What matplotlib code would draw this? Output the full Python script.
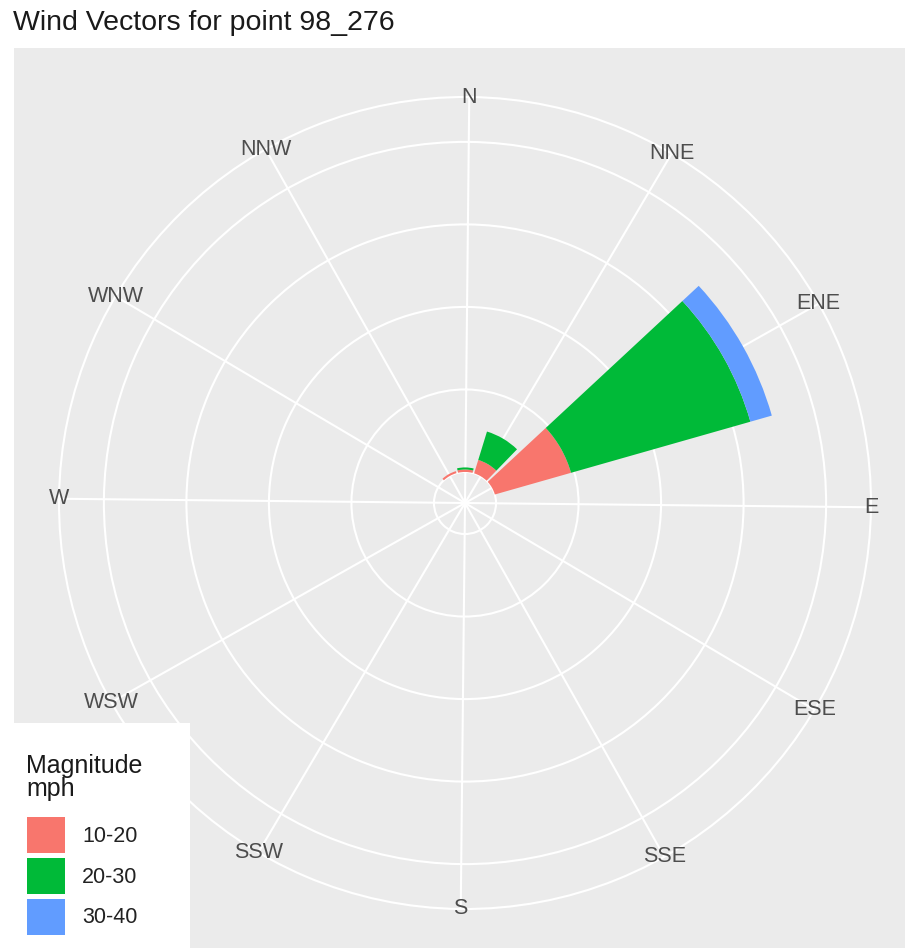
import numpy as np
import matplotlib
matplotlib.use('Agg')
import matplotlib.pyplot as plt
from matplotlib.patches import Rectangle, Patch

plt.rcParams['font.family'] = ['Liberation Sans', 'DejaVu Sans']

# data (radial unit: one grid ring = 10)
direction_deg = [0, 30, 60, 330]
mag_10_20 = [0.3, 1.7, 9.6, 0.25]
mag_20_30 = [0.25, 3.6, 22.6, 0.0]
mag_30_40 = [0.0, 0.0, 2.7, 0.0]
bin_labels = ['10-20', '20-30', '30-40']
bin_colors = ['#F8766D', '#00BA38', '#619CFF']

dir_ticks = [0, 30, 60, 90, 120, 150, 180, 210, 240, 270, 300, 330]
dir_labels = ['N', 'NNE', 'ENE', 'E', 'ESE', 'SSE', 'S', 'SSW', 'WSW', 'W', 'WNW', 'NNW']
ring_breaks = [0, 10, 20, 30, 40]

W, H = 905, 948
R0 = 3.76      # inner hole like ggplot's expanded radial scale
RMAX = 49.2    # outer ring

fig = plt.figure(figsize=(W / 100, H / 100), dpi=100)
fig.patch.set_facecolor('white')

# grey panel (cropped on the right and bottom)
fig.add_artist(Rectangle((14 / W, 0), 1, (H - 48) / H, transform=fig.transFigure,
                         facecolor='#EBEBEB', edgecolor='none', zorder=-1))

cx, cy, rad = 465, 503, 406
ax = fig.add_axes([(cx - rad) / W, (H - cy - rad) / H, 2 * rad / W, 2 * rad / H],
                  projection='polar')
ax.set_facecolor('none')
ax.set_theta_zero_location('N', offset=-0.6)
ax.set_theta_direction(-1)
ax.set_ylim(0, RMAX)

ax.set_xticks(np.deg2rad(dir_ticks))
ax.set_xticklabels([])
ax.set_yticks([R0 + b for b in ring_breaks])
ax.set_yticklabels([])
ax.tick_params(length=0)
ax.grid(True, color='white', linewidth=1.5)
ax.spines['polar'].set_color('white')
ax.spines['polar'].set_linewidth(1.5)

theta = np.deg2rad(direction_deg)
width = np.deg2rad(27)
bottom = np.full(len(direction_deg), R0)
for vals, col in zip([mag_10_20, mag_20_30, mag_30_40], bin_colors):
    vals = np.array(vals)
    ax.bar(theta, vals, width=width, bottom=bottom, color=col, linewidth=0, zorder=3)
    bottom = bottom + vals

for d, lab in zip(dir_ticks, dir_labels):
    ax.text(np.deg2rad(d), RMAX, lab, ha='center', va='center', fontsize=15.5,
            color='#4D4D4D', zorder=4)

fig.text(13 / W, 1 - 30 / H, 'Wind Vectors for point 98_276', fontsize=20.5,
         color='#1A1A1A', va='baseline', ha='left')

# legend box
fig.add_artist(Rectangle((0, 0), 190 / W, (H - 723) / H, transform=fig.transFigure,
                         facecolor='white', edgecolor='none', zorder=2))
fig.text(26 / W, 1 - 754 / H, 'Magnitude\nmph', fontsize=18, color='#1A1A1A',
         va='top', ha='left', linespacing=0.95, zorder=6)
handles = [Patch(facecolor=c, edgecolor='none') for c in bin_colors]
leg = fig.legend(handles, bin_labels, loc='upper left',
                 bbox_to_anchor=(27 / W, 1 - 817 / H), frameon=False,
                 borderpad=0, borderaxespad=0, fontsize=15.5,
                 handlelength=1.77, handleheight=2.2, labelspacing=0.22,
                 handletextpad=0.79, labelcolor='#222222')
leg.set_zorder(6)

fig.savefig('out.png', dpi=100)
